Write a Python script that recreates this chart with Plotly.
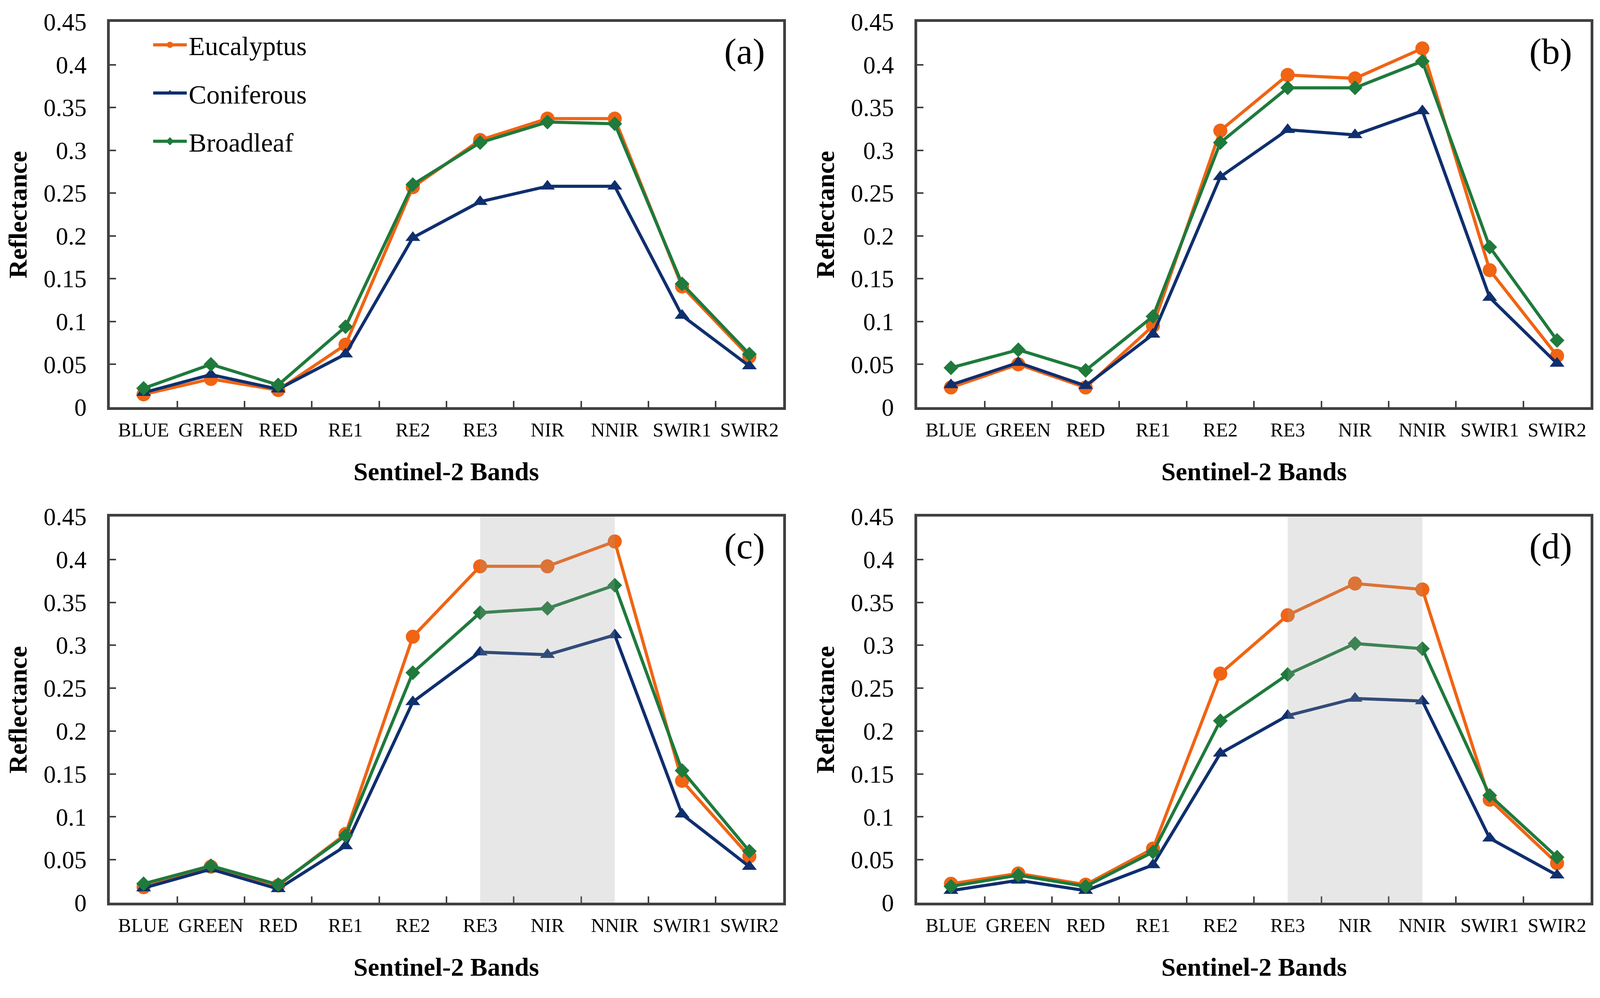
import plotly.graph_objects as go

bands = ["BLUE", "GREEN", "RED", "RE1", "RE2", "RE3", "NIR", "NNIR", "SWIR1", "SWIR2"]
species = ["Eucalyptus", "Coniferous", "Broadleaf"]
panel_labels = ["(a)", "(b)", "(c)", "(d)"]

# Panel (a)
a_eucalyptus = [0.015, 0.033, 0.020, 0.073, 0.257, 0.312, 0.337, 0.337, 0.141, 0.059]
a_coniferous = [0.017, 0.038, 0.021, 0.062, 0.198, 0.240, 0.258, 0.258, 0.107, 0.048]
a_broadleaf = [0.022, 0.050, 0.026, 0.094, 0.260, 0.309, 0.333, 0.331, 0.144, 0.062]
# Panel (b)
b_eucalyptus = [0.023, 0.050, 0.023, 0.095, 0.323, 0.388, 0.384, 0.419, 0.160, 0.060]
b_coniferous = [0.026, 0.052, 0.025, 0.085, 0.269, 0.324, 0.318, 0.346, 0.128, 0.051]
b_broadleaf = [0.046, 0.067, 0.043, 0.106, 0.309, 0.373, 0.373, 0.404, 0.187, 0.078]
# Panel (c)
c_eucalyptus = [0.018, 0.042, 0.020, 0.080, 0.310, 0.392, 0.392, 0.421, 0.142, 0.054]
c_coniferous = [0.017, 0.039, 0.016, 0.066, 0.234, 0.292, 0.289, 0.312, 0.103, 0.042]
c_broadleaf = [0.022, 0.043, 0.021, 0.078, 0.268, 0.338, 0.343, 0.370, 0.154, 0.060]
# Panel (d)
d_eucalyptus = [0.022, 0.034, 0.021, 0.063, 0.267, 0.335, 0.372, 0.365, 0.120, 0.046]
d_coniferous = [0.014, 0.026, 0.014, 0.044, 0.174, 0.218, 0.238, 0.235, 0.075, 0.032]
d_broadleaf = [0.019, 0.032, 0.019, 0.059, 0.212, 0.266, 0.302, 0.296, 0.125, 0.053]

y_tickvals = [0, 0.05, 0.1, 0.15, 0.2, 0.25, 0.3, 0.35, 0.4, 0.45]
y_ticktext = ["0", "0.05", "0.1", "0.15", "0.2", "0.25", "0.3", "0.35", "0.4", "0.45"]

# highlighted band range in panels (c) and (d)
shade_start = "RE3"
shade_end = "NNIR"

x_title = "Sentinel-2 Bands"
y_title = "Reflectance"

panels = [
    [a_eucalyptus, a_coniferous, a_broadleaf],
    [b_eucalyptus, b_coniferous, b_broadleaf],
    [c_eucalyptus, c_coniferous, c_broadleaf],
    [d_eucalyptus, d_coniferous, d_broadleaf],
]

colors = ["#F06414", "#0F2F6E", "#1F7A3C"]
symbols = ["circle", "triangle-up", "diamond"]
msizes = [36, 33, 29]

FONT = "Liberation Serif"
FRAME = "#404040"

W, H = 4148, 2554
x_domains = [[285 / W, 2030 / W], [2378 / W, 4124 / W]]
y_domains = [[1 - 1042 / H, 1 - 56 / H], [1 - 2310 / H, 1 - 1322 / H]]

fig = go.Figure()

for p, series in enumerate(panels):
    suffix = "" if p == 0 else str(p + 1)
    for s, vals in enumerate(series):
        fig.add_trace(go.Scatter(
            x=bands, y=vals, name=species[s],
            mode="lines+markers",
            line=dict(color=colors[s], width=8),
            marker=dict(symbol=symbols[s], size=msizes[s], color=colors[s]),
            xaxis="x" + suffix, yaxis="y" + suffix,
            showlegend=(p == 0), legendgroup=species[s],
        ))

layout = dict(
    autosize=True,
    margin=dict(l=0, r=0, t=0, b=0, pad=0, autoexpand=False),
    paper_bgcolor="white", plot_bgcolor="white",
    font=dict(family=FONT, color="black"),
    legend=dict(
        x=392 / W, y=1 - 64 / H, xanchor="left", yanchor="top",
        font=dict(family=FONT, size=68, color="black"),
        bgcolor="rgba(0,0,0,0)", itemwidth=86, tracegroupgap=32,
    ),
    shapes=[], annotations=[],
)

for p in range(4):
    suffix = "" if p == 0 else str(p + 1)
    col = p % 2
    row = p // 2
    layout["xaxis" + suffix] = dict(
        domain=x_domains[col], anchor="y" + suffix,
        type="category", categoryorder="array", categoryarray=bands,
        range=[-0.5, len(bands) - 0.5],
        tickson="boundaries", ticks="inside", ticklen=16, tickwidth=4, tickcolor=FRAME,
        showline=True, linewidth=7, linecolor=FRAME, mirror=True,
        showgrid=False, zeroline=False, automargin=False, tickangle=0,
        tickfont=dict(family=FONT, size=50, color="black"),
        ticklabelstandoff=8,
    )
    layout["yaxis" + suffix] = dict(
        domain=y_domains[row], anchor="x" + suffix,
        range=[0, 0.45], tickvals=y_tickvals, ticktext=y_ticktext,
        ticks="inside", ticklen=16, tickwidth=4, tickcolor=FRAME,
        showline=True, linewidth=7, linecolor=FRAME, mirror=True,
        showgrid=False, zeroline=False, automargin=False,
        tickfont=dict(family=FONT, size=63, color="black"),
        ticklabelstandoff=40,
    )
    layout["annotations"].append(dict(
        text=panel_labels[p], showarrow=False,
        xref="x" + suffix + " domain", yref="y" + suffix + " domain",
        x=0.974, y=0.924, xanchor="right", yanchor="middle",
        font=dict(family=FONT, size=94, color="black"),
    ))
    layout["annotations"].append(dict(
        text="<b>" + x_title + "</b>", showarrow=False,
        xref="x" + suffix + " domain", yref="y" + suffix + " domain",
        x=0.5, y=0, yshift=-164, xanchor="center", yanchor="middle",
        font=dict(family=FONT, size=66, color="black"),
    ))
    layout["annotations"].append(dict(
        text="<b>" + y_title + "</b>", showarrow=False, textangle=-90,
        xref="x" + suffix + " domain", yref="y" + suffix + " domain",
        x=0, y=0.5, xshift=-236, xanchor="center", yanchor="middle",
        font=dict(family=FONT, size=66, color="black"),
    ))
    if row == 1:
        layout["shapes"].append(dict(
            type="rect", xref="x" + suffix, yref="y" + suffix + " domain",
            x0=bands.index(shade_start), x1=bands.index(shade_end), y0=0, y1=1,
            fillcolor="#A0A0A0", opacity=0.25, line=dict(width=0), layer="above",
        ))

fig.update_layout(**layout)

fit_script = (
    "document.documentElement.style.margin='0';"
    "document.documentElement.style.overflow='hidden';"
    "document.body.style.margin='0';"
    "document.body.style.overflow='hidden';"
    "Plotly.Plots.resize(document.getElementById('{plot_id}'));"
)
fig.write_html("out.html", default_width="100vw", default_height="100vh",
               config={"responsive": True, "displayModeBar": False},
               post_script=fit_script)
